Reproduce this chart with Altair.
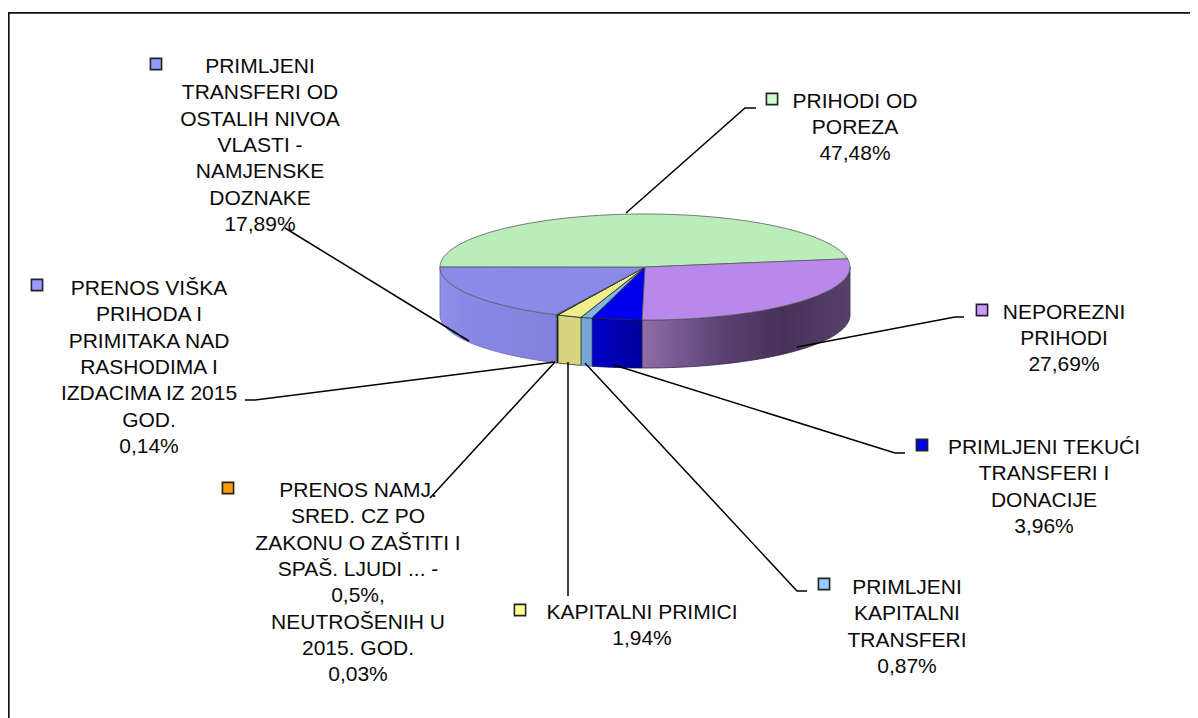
import math
import altair as alt

# ---- chart values (order: clockwise from the bottom of the pie) ----
CATEGORIES = [
    ["PRIMLJENI TEKUĆI", "TRANSFERI I", "DONACIJE"],
    ["PRIMLJENI", "KAPITALNI", "TRANSFERI"],
    ["KAPITALNI PRIMICI"],
    ["PRENOS NAMJ.", "SRED. CZ PO", "ZAKONU O ZAŠTITI I", "SPAŠ. LJUDI ... -", "0,5%,", "NEUTROŠENIH U", "2015. GOD."],
    ["PRENOS VIŠKA", "PRIHODA I", "PRIMITAKA NAD", "RASHODIMA I", "IZDACIMA IZ 2015", "GOD."],
    ["PRIMLJENI", "TRANSFERI OD", "OSTALIH NIVOA", "VLASTI -", "NAMJENSKE", "DOZNAKE"],
    ["PRIHODI OD", "POREZA"],
    ["NEPOREZNI", "PRIHODI"],
]
SHARES = [3.96, 0.87, 1.94, 0.03, 0.14, 17.89, 47.48, 27.69]

# ---- styling ----
KEY_COLORS = ["#0000FF", "#99CCFF", "#FFFF99", "#FF9900", "#9999FF", "#9999FF", "#CCFFCC", "#CC99FF"]
TOP_COLORS = ["#0000EE", "#80B2E6", "#EEEE8C", "#EE8E00", "#8A8AE8", "#8A8AE8", "#BAEDBA", "#B988EC"]


def grad(*stops):
    return alt.Gradient(
        gradient="linear", x1=0, x2=1, y1=0, y2=0,
        stops=[alt.GradientStop(offset=o, color=c) for o, c in stops],
    )


WALL_FILLS = [
    grad((0, "#0000C4"), (1, "#00009C")),
    "#78A6D2",
    "#D6D680",
    "#8A5A10",
    "#8080D8",
    grad((0, "#9090EA"), (0.2, "#8888E6"), (1, "#8282DC")),
    None,
    grad((0, "#8E6EA8"), (0.4, "#5A3F72"), (0.68, "#463258"), (1, "#56406C")),
]
WALL_STROKES = ["#000060", "#5F86AA", "#2A2A10", "#111111", "#111111", "#6A6AAA", None, "#3A2A48"]

# ---- layout in page pixels ----
W, H = 1182, 710
CX, CY, RX, RY, DEPTH = 645, 267, 205, 53, 48
START_ANGLE = 0.8
LABEL_CENTER = [(1044, 454), (907, 594), (642, 619), (358, 497), (149, 295), (260, 73), (855, 107.5), (1064, 318.5)]
LINE_STEP = 26.3
KEY_POS = [(922, 445), (824, 584), (520, 610), (228, 488), (37, 285), (156, 64), (772, 99), (982, 310)]
LEADERS = [
    [(614, 365), (895, 453), (905, 453)],
    [(585, 363), (797, 591), (807, 591)],
    [(568, 362), (568, 596)],
    [(555, 362), (430, 498)],
    [(555, 362), (255, 400), (245, 400)],
    [(469, 341), (285, 228)],
    [(626, 213), (745, 108), (756, 108)],
    [(797, 347), (955, 317), (964, 317)],
]
FRAME = [(8.8, 718), (8.8, 12.8), (1198, 12.8)]

x_scale = alt.Scale(domain=[8, 8 + W], range=[0, W])
y_scale = alt.Scale(domain=[8, 8 + H], range=[0, H])
X = lambda f="x": alt.X(f"{f}:Q", scale=x_scale, axis=None)
Y = lambda f="y": alt.Y(f"{f}:Q", scale=y_scale, axis=None)
proj = alt.Projection(type="identity", scale=1, translate=[-8, -8])


def rim(theta):
    r = math.radians(theta)
    return CX - RX * math.sin(r), CY + RY * math.cos(r)


def arc_points(a, b):
    n = max(2, int(abs(b - a) / 1.5) + 2)
    return [rim(a + (b - a) * i / (n - 1)) for i in range(n)]


def feature(ring):
    ring = [list(p) for p in ring]
    ring.append(ring[0])
    return {"type": "Feature", "properties": {}, "geometry": {"type": "Polygon", "coordinates": [ring]}}


# slice angles measured clockwise from the bottom of the ellipse, from the shares
total = sum(SHARES)
edges = [START_ANGLE]
for s in SHARES:
    edges.append(edges[-1] + 360 * s / total)

layers = []

# outer walls (only the visible front half)
for i, (a, b) in enumerate(zip(edges[:-1], edges[1:])):
    fill = WALL_FILLS[i]
    if fill is None:
        continue
    lo, hi = (a, min(b, 90)) if b <= 180 else (max(a, 270), b)
    if hi <= lo:
        continue
    top = arc_points(lo, hi)
    ring = top + [(x, y + DEPTH) for x, y in reversed(top)]
    layers.append(
        alt.Chart(alt.Data(values=[feature(ring)]))
        .mark_geoshape(fill=fill, stroke=WALL_STROKES[i], strokeWidth=0.8)
        .project(**proj.to_dict())
    )

# top faces
for i, (a, b) in enumerate(zip(edges[:-1], edges[1:])):
    ring = [(CX, CY)] + arc_points(a, b)
    layers.append(
        alt.Chart(alt.Data(values=[feature(ring)]))
        .mark_geoshape(fill=TOP_COLORS[i], stroke="#5a5a5a" if SHARES[i] > 10 else "#222222", strokeWidth=0.8)
        .project(**proj.to_dict())
    )

# leader lines and frame
line_rows = []
for i, pts in enumerate(LEADERS):
    for j, (x, y) in enumerate(pts):
        line_rows.append({"g": i, "o": j, "x": x, "y": y})
layers.append(
    alt.Chart(alt.Data(values=line_rows))
    .mark_line(color="#000000", strokeWidth=1.5)
    .encode(x=X(), y=Y(), detail="g:N", order="o:Q")
)
frame_rows = [{"o": j, "x": x, "y": y} for j, (x, y) in enumerate(FRAME)]
layers.append(
    alt.Chart(alt.Data(values=frame_rows))
    .mark_line(color="#111111", strokeWidth=1.7)
    .encode(x=X(), y=Y(), order="o:Q")
)

# legend keys
key_rows = [{"x": p[0], "y": p[1], "fill": c} for p, c in zip(KEY_POS, KEY_COLORS)]
layers.append(
    alt.Chart(alt.Data(values=key_rows))
    .mark_square(size=125, stroke="#222222", strokeWidth=1.6, opacity=1, filled=True)
    .encode(x=X(), y=Y(), fill=alt.Fill("fill:N", scale=None))
)

# labels
text_rows = []
for lines, s, (cx, by) in zip(CATEGORIES, SHARES, LABEL_CENTER):
    rows = lines + [f"{s:.2f}".replace(".", ",") + "%"]
    for k, t in enumerate(rows):
        text_rows.append({"t": t, "x": cx, "y": by + k * LINE_STEP})
layers.append(
    alt.Chart(alt.Data(values=text_rows))
    .mark_text(font="Liberation Sans", fontSize=21, color="#0a0a0a", align="center", baseline="alphabetic")
    .encode(x=X(), y=Y(), text="t:N")
)

chart = (
    alt.layer(*layers)
    .properties(width=W, height=H, padding=0, background="#ffffff", autosize=alt.AutoSizeParams(type="none"))
    .configure_view(stroke=None)
)
chart.save("out.html", embed_options={"renderer": "svg", "actions": False})
